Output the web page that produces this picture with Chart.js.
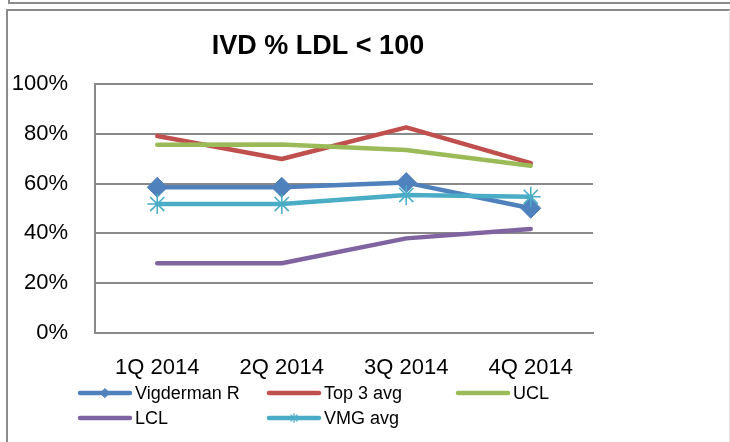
<!DOCTYPE html>
<html>
<head>
<meta charset="utf-8">
<script src="https://cdn.jsdelivr.net/npm/chart.js@4/dist/chart.umd.min.js"></script>
<style>
	html, body { margin: 0; padding: 0; background: #fff; }
	#wrap { width: 730px; height: 442px; position: relative; }
</style>
</head>
<body>
<div id="wrap"><canvas id="myChart" width="730" height="442"></canvas></div>
<script>
const chartTitle = 'IVD % LDL < 100';
const quarters = ['1Q 2014', '2Q 2014', '3Q 2014', '4Q 2014'];
const vigderman = [58.5, 58.5, 60.4, 50.1];
const top3Avg = [79.1, 69.9, 82.6, 68.2];
const ucl = [75.6, 75.7, 73.5, 67.2];
const lcl = [28.0, 28.0, 38.0, 41.8];
const vmgAvg = [51.8, 51.8, 55.4, 54.7];
const yTicks = [0, 20, 40, 60, 80, 100];

const fontFam = '"Liberation Sans", Arial, sans-serif';
const gridGray = '#898989';

function series(label, values, color, order, marker) {
	return {
		label: label,
		data: values,
		borderColor: color,
		backgroundColor: color,
		borderWidth: 4.5,
		borderCapStyle: 'round',
		borderJoinStyle: 'round',
		tension: 0,
		order: order,
		pointStyle: marker || 'circle',
		pointRadius: marker ? 10 : 0,
		pointBorderWidth: marker === 'star' ? 1.6 : 1,
		pointHoverRadius: marker ? 10 : 0,
	};
}

// frame lines, title and legend laid out like the spreadsheet version
const framePlugin = {
	id: 'frame',
	beforeDraw(chart) {
		const ctx = chart.ctx;
		ctx.save();
		ctx.strokeStyle = '#8c8c8c';
		ctx.lineWidth = 2;
		ctx.beginPath();
		ctx.moveTo(9, 0);
		ctx.lineTo(9, 3);
		ctx.lineTo(730, 3);
		ctx.moveTo(7, 442);
		ctx.lineTo(7, 10);
		ctx.lineTo(730, 10);
		ctx.stroke();
		ctx.strokeStyle = '#e6e6e6';
		ctx.lineWidth = 1;
		ctx.beginPath();
		ctx.moveTo(729.5, 10);
		ctx.lineTo(729.5, 442);
		ctx.stroke();

		ctx.fillStyle = '#000';
		ctx.font = 'bold 27px ' + fontFam;
		ctx.textAlign = 'center';
		ctx.textBaseline = 'middle';
		ctx.fillText(chartTitle, 318, 47);
		ctx.restore();
	},
	afterDraw(chart) {
		const ctx = chart.ctx;
		const cols = [80, 269, 458];
		const rows = [393, 418];
		ctx.save();
		chart.data.datasets.forEach(function (ds, i) {
			const x = cols[i % 3];
			const y = rows[Math.floor(i / 3)];
			ctx.strokeStyle = ds.borderColor;
			ctx.lineWidth = 4.5;
			ctx.lineCap = 'round';
			ctx.beginPath();
			ctx.moveTo(x, y);
			ctx.lineTo(x + 50, y);
			ctx.stroke();
			if (ds.pointRadius > 0) {
				ctx.fillStyle = ds.backgroundColor;
				ctx.lineWidth = ds.pointStyle === 'star' ? 1.2 : 1;
				Chart.helpers.drawPoint(ctx, { pointStyle: ds.pointStyle, radius: 4.5, rotation: 0, borderWidth: 1 }, x + 25, y);
			}
			ctx.fillStyle = '#000';
			ctx.font = '18px ' + fontFam;
			ctx.textBaseline = 'middle';
			ctx.textAlign = 'left';
			ctx.fillText(ds.label, x + 55, y + 1);
		});
		ctx.restore();
	},
};

const data = {
	labels: quarters,
	datasets: [
		series('Vigderman R', vigderman, '#4F81BD', 5, 'rectRot'),
		series('Top 3 avg', top3Avg, '#C0504D', 4),
		series('UCL', ucl, '#9BBB59', 3),
		series('LCL', lcl, '#8064A2', 2),
		series('VMG avg', vmgAvg, '#4BACC6', 1, 'star'),
	],
};

const config = {
	type: 'line',
	data: data,
	plugins: [framePlugin],
	options: {
		responsive: false,
		animation: false,
		layout: { padding: { top: 84, left: 0, right: 137, bottom: 0 } },
		plugins: {
			legend: { display: false },
			tooltip: { enabled: false },
			title: { display: false },
		},
		scales: {
			x: {
				offset: true,
				grid: { display: false, drawTicks: false },
				border: { display: true, color: gridGray, width: 2 },
				ticks: { color: '#000', font: { family: fontFam, size: 22 }, padding: 22, maxRotation: 0 },
				afterFit(scale) {
					scale.height = 109;
				},
			},
			y: {
				min: 0,
				max: 100,
				afterBuildTicks(scale) {
					scale.ticks = yTicks.map(function (v) { return { value: v }; });
				},
				grid: { color: gridGray, lineWidth: 2, drawTicks: false },
				border: { display: true, color: gridGray, width: 2 },
				ticks: {
					color: '#000',
					font: { family: fontFam, size: 22 },
					padding: 27,
					callback: function (v) { return v + '%'; },
				},
				afterFit(scale) {
					scale.width = 95;
				},
			},
		},
	},
};

const myChart = new Chart(document.getElementById('myChart'), config);
</script>
</body>
</html>
